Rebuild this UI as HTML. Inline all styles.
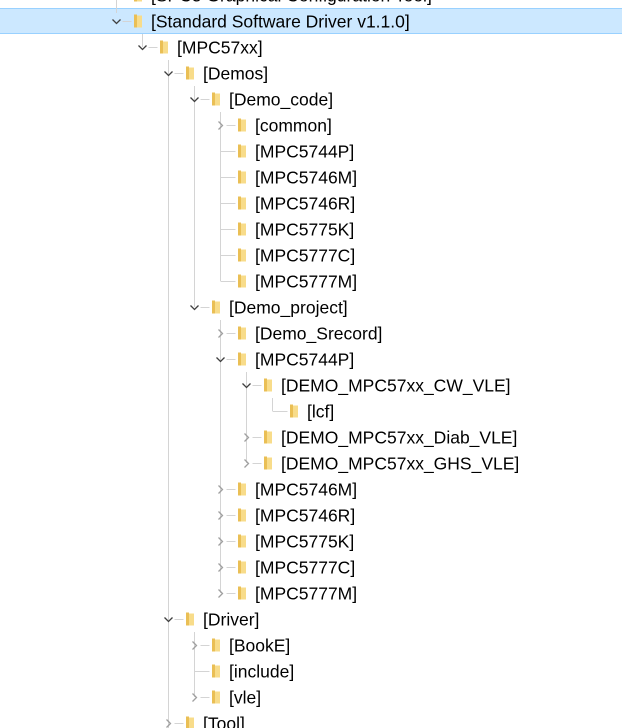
<!DOCTYPE html>
<html><head><meta charset="utf-8"><style>
html,body{margin:0;padding:0;background:#fff;width:622px;height:728px;overflow:hidden}
svg{display:block}
text{font-family:"Liberation Sans",sans-serif;font-size:17.5px;fill:#000}
</style></head><body>
<svg width="622" height="728" viewBox="0 0 622 728" xmlns="http://www.w3.org/2000/svg">
<rect x="0" y="8" width="622" height="26" fill="#cce8ff"/>
<line x1="0" y1="33.5" x2="622" y2="33.5" stroke="#99d1ff"/>
<line x1="0" y1="8.5" x2="622" y2="8.5" stroke="#99d1ff"/>
<g stroke="#d4d4d4" stroke-width="1" fill="none">
<line x1="116.5" y1="0" x2="116.5" y2="13"/>
<line x1="142.5" y1="34" x2="142.5" y2="47"/>
<line x1="168.5" y1="60" x2="168.5" y2="728"/>
<line x1="194.5" y1="86" x2="194.5" y2="307"/>
<line x1="194.5" y1="632" x2="194.5" y2="697"/>
<line x1="220.5" y1="112" x2="220.5" y2="281"/>
<line x1="220.5" y1="320" x2="220.5" y2="593"/>
<line x1="246.5" y1="372" x2="246.5" y2="463"/>
<line x1="272.5" y1="398" x2="272.5" y2="411"/>
</g>
<g id="rows"></g>
</svg>
<script>
var rows=[
[-1,0,'n','[SPC5 Graphical Configuration Tool]'],
[0,0,'e','[Standard Software Driver v1.1.0]'],
[1,1,'e','[MPC57xx]'],
[2,2,'e','[Demos]'],
[3,3,'e','[Demo_code]'],
[4,4,'c','[common]'],
[5,4,'n','[MPC5744P]'],
[6,4,'n','[MPC5746M]'],
[7,4,'n','[MPC5746R]'],
[8,4,'n','[MPC5775K]'],
[9,4,'n','[MPC5777C]'],
[10,4,'n','[MPC5777M]'],
[11,3,'e','[Demo_project]'],
[12,4,'c','[Demo_Srecord]'],
[13,4,'e','[MPC5744P]'],
[14,5,'e','[DEMO_MPC57xx_CW_VLE]'],
[15,6,'n','[lcf]'],
[16,5,'c','[DEMO_MPC57xx_Diab_VLE]'],
[17,5,'c','[DEMO_MPC57xx_GHS_VLE]'],
[18,4,'c','[MPC5746M]'],
[19,4,'c','[MPC5746R]'],
[20,4,'c','[MPC5775K]'],
[21,4,'c','[MPC5777C]'],
[22,4,'c','[MPC5777M]'],
[23,2,'e','[Driver]'],
[24,3,'c','[BookE]'],
[25,3,'n','[include]'],
[26,3,'c','[vle]'],
[27,2,'c','[Tool]']
];
var NS='http://www.w3.org/2000/svg',g=document.getElementById('rows');
function el(t,a,txt){var e=document.createElementNS(NS,t);for(var k in a)e.setAttribute(k,a[k]);if(txt)e.textContent=txt;g.appendChild(e);return e;}
rows.forEach(function(r){
 var a=116+26*r[1]+0.5,y=21+26*r[0]+0.5;
 if(r[2]=='n'){el('line',{x1:a,y1:y,x2:a+15,y2:y,stroke:'#d4d4d4'});}
 else{el('line',{x1:a+6,y1:y,x2:a+15,y2:y,stroke:'#d4d4d4'});}
 if(r[2]=='e')el('polyline',{points:(a-4)+','+(y-2)+' '+a+','+(y+2)+' '+(a+4)+','+(y-2),stroke:'#404040','stroke-width':1.3,fill:'none'});
 if(r[2]=='c')el('polyline',{points:(a-2)+','+(y-4)+' '+(a+2)+','+y+' '+(a-2)+','+(y+4),stroke:'#a0a0a0','stroke-width':1.3,fill:'none'});
 var fx=a+17.5;
 el('rect',{x:fx,y:y-6,width:8,height:12,fill:'#f8dc8a'});
 el('rect',{x:fx,y:y-7,width:3,height:13,fill:'#eabf55'});
 el('text',{x:a+34.5,y:y+6},r[3]);
});
</script>
</body></html>
